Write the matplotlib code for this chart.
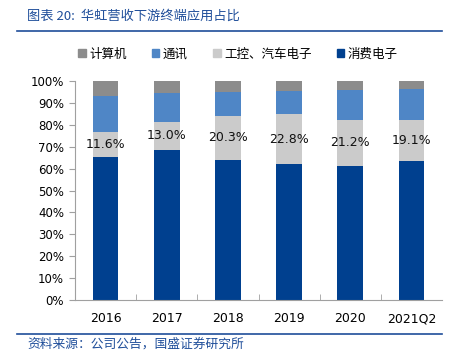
import matplotlib
matplotlib.use("Agg")
import matplotlib.pyplot as plt
from matplotlib.patches import Patch
from matplotlib.lines import Line2D
import numpy as np

plt.rcParams["font.family"] = ["Noto Sans CJK SC", "DejaVu Sans"]

years = ["2016", "2017", "2018", "2019", "2020", "2021Q2"]
consumer = [65.3, 68.5, 63.9, 62.0, 61.2, 63.3]       # 消费电子
industrial = [11.6, 13.0, 20.3, 22.8, 21.2, 19.1]     # 工控、汽车电子
comm = [16.4, 13.2, 10.9, 10.6, 13.5, 13.9]           # 通讯
computer = [6.7, 5.3, 4.9, 4.6, 4.1, 3.7]             # 计算机
ind_labels = ["11.6%", "13.0%", "20.3%", "22.8%", "21.2%", "19.1%"]

C_CONS, C_IND, C_COMM, C_COMP = "#00408F", "#CBCBCB", "#4F86C6", "#8C8C8C"
BLUE = "#1F4E9A"

fig = plt.figure(figsize=(4.62, 3.56), dpi=100)
ax = fig.add_axes([75 / 462, 56 / 356, 367 / 462, 219 / 356])

x = np.arange(len(years))
w = 0.42
b1 = np.array(consumer)
b2 = b1 + np.array(industrial)
b3 = b2 + np.array(comm)
ax.bar(x, consumer, w, color=C_CONS)
ax.bar(x, industrial, w, bottom=b1, color=C_IND)
ax.bar(x, comm, w, bottom=b2, color=C_COMM)
ax.bar(x, computer, w, bottom=b3, color=C_COMP)
for i, t in enumerate(ind_labels):
    ax.text(i, b1[i] + industrial[i] / 2, t, ha="center", va="center",
            fontsize=9, family="DejaVu Sans", color="#111111")

ax.set_xlim(-0.5, len(years) - 0.5)
ax.set_ylim(0, 100)
ax.set_yticks(np.arange(0, 101, 10))
ax.set_yticklabels([f"{v}%" for v in range(0, 101, 10)], family="DejaVu Sans", fontsize=8.5)
ax.set_xticks(x)
ax.set_xticklabels(years, family="DejaVu Sans", fontsize=9)
ax.set_xticks(np.arange(0.5, len(years) - 0.5, 1), minor=True)
ax.tick_params(axis="x", which="major", length=0, pad=9)
ax.tick_params(axis="x", which="minor", direction="in", length=4, color="#A0A0A0")
ax.tick_params(axis="y", length=4, color="#A0A0A0", pad=4)
for s in ["top", "right"]:
    ax.spines[s].set_visible(False)
for s in ["left", "bottom"]:
    ax.spines[s].set_color("#A0A0A0")

handles = [Patch(color=C_COMP, label="计算机"), Patch(color=C_COMM, label="通讯"),
           Patch(color=C_IND, label="工控、汽车电子"), Patch(color=C_CONS, label="消费电子")]
fig.legend(handles=handles, loc="center", bbox_to_anchor=(238 / 462, 1 - 54 / 356), ncol=4,
           frameon=False, fontsize=9, handlelength=0.6, handleheight=0.6,
           handletextpad=0.3, columnspacing=2.0)

fig.text(27 / 462, 1 - 16 / 356, "图表 20:  华虹营收下游终端应用占比", fontsize=9.5,
         color=BLUE, style="italic", ha="left", va="center")
fig.add_artist(Line2D([17 / 462, 442 / 462], [1 - 31 / 356] * 2, color=BLUE, lw=1.2))
fig.add_artist(Line2D([17 / 462, 442 / 462], [1 - 334 / 356] * 2, color=BLUE, lw=1.2))
fig.text(27 / 462, 1 - 344 / 356, "资料来源：公司公告，国盛证券研究所", fontsize=9.2,
         color=BLUE, style="italic", ha="left", va="center")

fig.savefig("out.png", dpi=100)
